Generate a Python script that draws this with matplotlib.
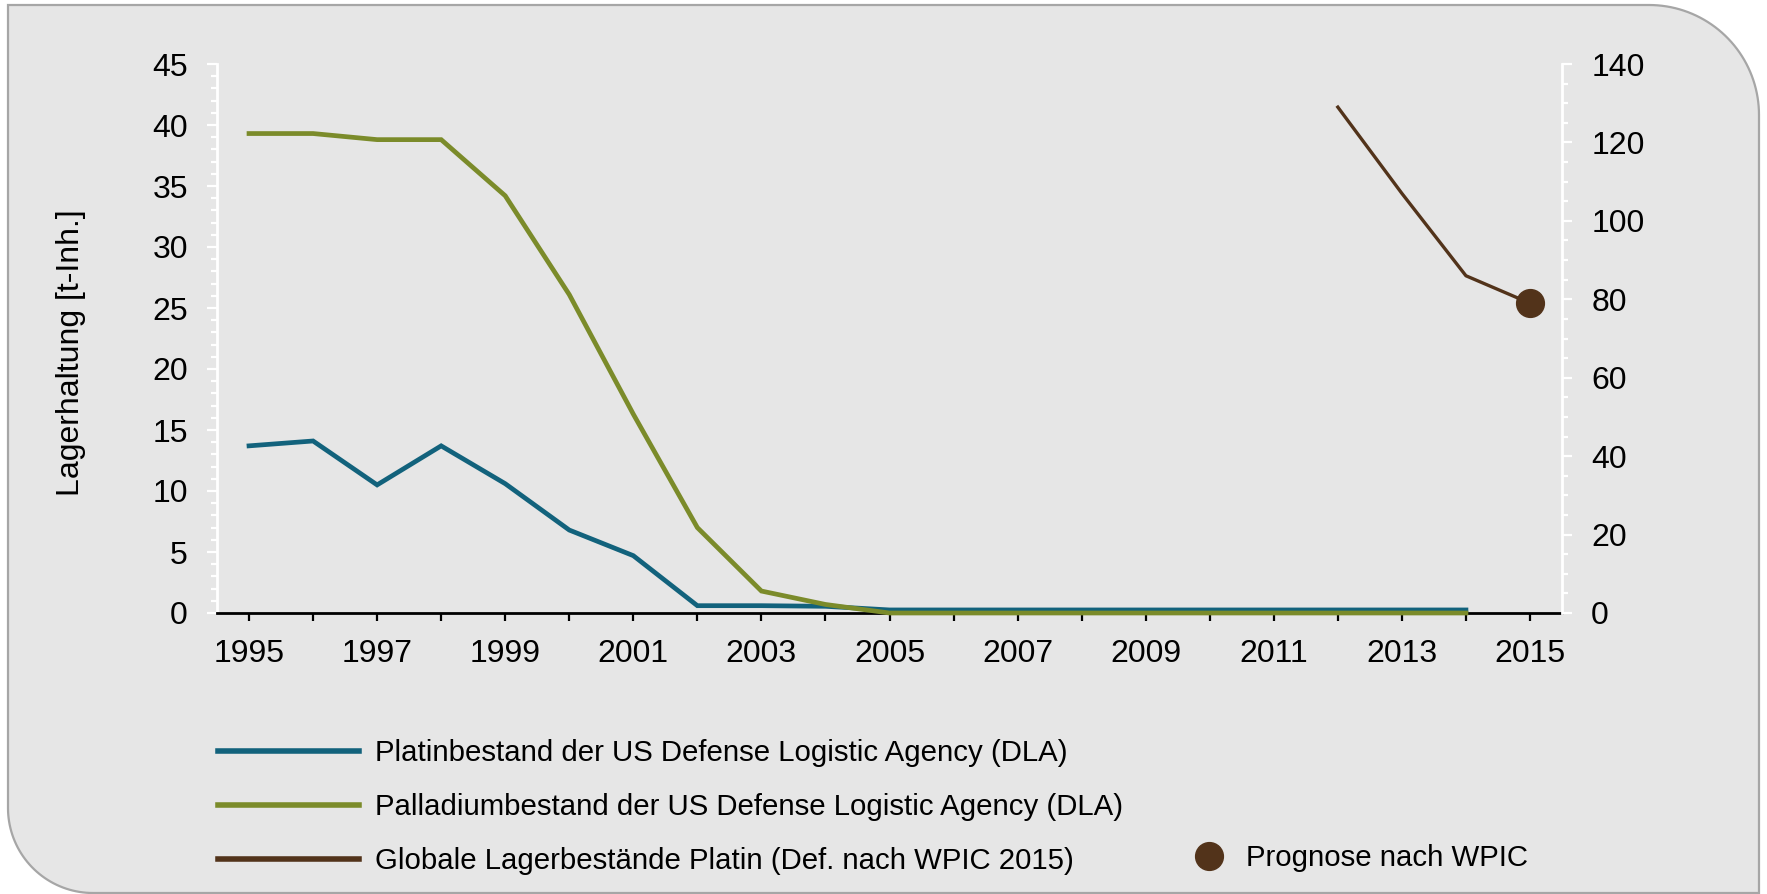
import matplotlib
matplotlib.use("Agg")
import matplotlib.pyplot as plt
import numpy as np
from matplotlib.path import Path
from matplotlib.patches import PathPatch
from matplotlib.transforms import Affine2D
from matplotlib.lines import Line2D
from matplotlib.ticker import MultipleLocator, FuncFormatter

plt.rcParams['font.family'] = ['Liberation Sans', 'DejaVu Sans']

# --- data -------------------------------------------------------------
years_dla = list(range(1995, 2015))
platin_dla = [13.7, 14.1, 10.5, 13.7, 10.6, 6.8, 4.7, 0.6, 0.6, 0.55,
              0.25, 0.25, 0.25, 0.25, 0.25, 0.25, 0.25, 0.25, 0.25, 0.25]
palladium_dla = [39.3, 39.3, 38.8, 38.8, 34.2, 26.1, 16.3, 7.0, 1.8, 0.7,
                 0.0, 0.0, 0.0, 0.0, 0.0, 0.0, 0.0, 0.0, 0.0, 0.0]
years_global = [2012, 2013, 2014, 2015]
platin_global = [129, 107, 86, 79]
years_prognose = [2015]
prognose_wpic = [79]

labels = ["Platinbestand der US Defense Logistic Agency (DLA)",
          "Palladiumbestand der US Defense Logistic Agency (DLA)",
          "Globale Lagerbestände Platin (Def. nach WPIC 2015)",
          "Prognose nach WPIC"]
ylabel = "Lagerhaltung [t-Inh.]"

c_pt = "#12627c"
c_pd = "#7b8b2a"
c_gl = "#52331a"

W, H = 1767, 894
fig = plt.figure(figsize=(W / 100, H / 100), dpi=100, facecolor="white")

# --- panel background: rounded top-right and bottom-left corners -------
def panel_path(x0, y0, x1, y1, r_tr, r_bl, n=40):
    pts = [(x0, y1)]                      # top-left (square)
    t = np.linspace(np.pi / 2, 0, n)
    cx, cy = x1 - r_tr, y1 - r_tr
    pts += [(cx + r_tr * np.cos(a), cy + r_tr * np.sin(a)) for a in t]
    pts.append((x1, y0))                  # bottom-right (square)
    t = np.linspace(-np.pi / 2, -np.pi, n)
    cx, cy = x0 + r_bl, y0 + r_bl
    pts += [(cx + r_bl * np.cos(a), cy + r_bl * np.sin(a)) for a in t]
    pts.append((x0, y1))
    codes = [Path.MOVETO] + [Path.LINETO] * (len(pts) - 2) + [Path.CLOSEPOLY]
    return Path(pts, codes)

bg = PathPatch(panel_path(8, 1, 1759, H - 5, 110, 85),
               facecolor="#e6e6e6", edgecolor="#a6a6a6", linewidth=1.6,
               transform=Affine2D().scale(1 / W, 1 / H) + fig.transFigure,
               zorder=-10)
fig.patches.append(bg)

# --- axes --------------------------------------------------------------
ax = fig.add_axes([217 / W, 1 - 613 / H, (1562 - 217) / W, (613 - 64) / H])
ax.set_facecolor("none")
ax2 = ax.twinx()
ax2.set_facecolor("none")

ax.plot(years_dla, platin_dla, color=c_pt, lw=3.4, clip_on=False,
        solid_joinstyle="miter", zorder=3)
ax.plot(years_dla, palladium_dla, color=c_pd, lw=3.4, clip_on=False,
        solid_joinstyle="miter", zorder=4)
ax2.plot(years_global, platin_global, color=c_gl, lw=2.4, clip_on=False, zorder=3)
ax2.plot(years_prognose, prognose_wpic, 'o', color=c_gl, ms=20, clip_on=False,
         zorder=4)

ax.set_xlim(1994.5, 2015.5)
ax.set_ylim(0, 45)
ax2.set_ylim(0, 140)

ax.xaxis.set_major_locator(MultipleLocator(2, offset=1))
ax.xaxis.set_minor_locator(MultipleLocator(1))
ax.xaxis.set_major_formatter(FuncFormatter(lambda v, p: f"{int(round(v))}"))
ax.yaxis.set_major_locator(MultipleLocator(5))
ax.yaxis.set_minor_locator(MultipleLocator(1))
ax2.yaxis.set_major_locator(MultipleLocator(20))
ax2.yaxis.set_minor_locator(MultipleLocator(5))

for a in (ax, ax2):
    for s in a.spines.values():
        s.set_visible(False)
ax.spines['bottom'].set_visible(True)
ax.spines['bottom'].set_color("black")
ax.spines['bottom'].set_linewidth(2.0)
ax.spines['left'].set_visible(True)
ax.spines['left'].set_color("white")
ax.spines['left'].set_linewidth(2.0)
ax2.spines['right'].set_visible(True)
ax2.spines['right'].set_color("white")
ax2.spines['right'].set_linewidth(2.0)

fs = 23
ax.tick_params(axis='x', which='both', direction='out', length=6, width=1.6,
               color='black', labelsize=fs, pad=13)
ax.tick_params(axis='y', which='major', direction='out', length=7, width=1.6,
               color='white', labelsize=fs, pad=14)
ax.tick_params(axis='y', which='minor', direction='out', length=4.5, width=1.6,
               color='white')
ax2.tick_params(axis='y', which='major', direction='out', length=7, width=1.6,
                color='white', labelsize=fs, pad=14)
ax2.tick_params(axis='y', which='minor', direction='out', length=4.5, width=1.6,
                color='white')
ax.tick_params(axis='x', which='minor', labelbottom=False)

ax.set_ylabel(ylabel, fontsize=23)
ax.yaxis.set_label_coords(-0.0975, 0.474)

# --- legend ------------------------------------------------------------
lfs = 21.2
h_lines = [Line2D([], [], color=c_pt, lw=4),
           Line2D([], [], color=c_pd, lw=4),
           Line2D([], [], color=c_gl, lw=4)]
leg1 = fig.legend(h_lines, labels[:3], loc="upper left",
                  bbox_to_anchor=(218 / W, 1 - 739 / H), frameon=False,
                  fontsize=lfs, handlelength=4.8, handletextpad=0.54,
                  labelspacing=0.88, borderpad=0, borderaxespad=0)
h_dot = [Line2D([], [], color=c_gl, marker='o', ls='none', ms=20)]
leg2 = fig.legend(h_dot, labels[3:], loc="upper left",
                  bbox_to_anchor=(1190 / W, 1 - 844 / H), frameon=False,
                  fontsize=lfs, handlelength=1.26, handletextpad=0.65,
                  borderpad=0, borderaxespad=0)

fig.savefig("out.png", dpi=100, facecolor="white")
